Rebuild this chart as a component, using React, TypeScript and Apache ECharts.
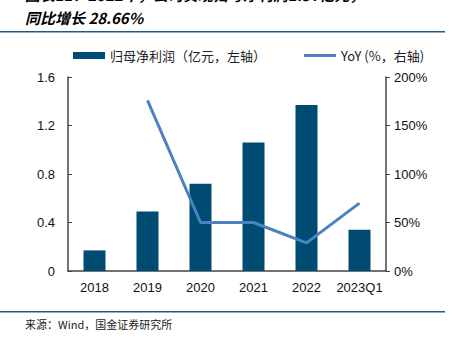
import React, { useEffect, useRef } from "react";
import * as echarts from "echarts";

const categories = ["2018", "2019", "2020", "2021", "2022", "2023Q1"];
const profit = [0.17, 0.49, 0.72, 1.06, 1.37, 0.34];
const yoy: (number | null)[] = [null, 176, 50, 50, 29, 70];
const leftTicks = [0, 0.4, 0.8, 1.2, 1.6];
const rightTicks = [0, 50, 100, 150, 200];
const barName = "归母净利润（亿元，左轴）";
const lineName = "YoY (%，右轴)";
const titleLine1 = "图表11：2022年，公司实现归母净利润1.37亿元，";
const titleLine2 = "同比增长 28.66%";
const sourceText = "来源：Wind，国金证券研究所";

export default function App() {
  const ref = useRef<HTMLDivElement>(null);
  useEffect(() => {
    if (!ref.current) return;
    const chart = echarts.init(ref.current, null, { renderer: "svg" });
    const font = "Liberation Sans, Arial, Noto Sans CJK SC, sans-serif";
    chart.setOption({
      animation: false,
      textStyle: { fontFamily: font },
      graphic: [
        {
          type: "text",
          left: 25,
          top: -13,
          style: { text: titleLine1, font: "italic bold 15px 'Noto Sans CJK SC'", fill: "#000" },
        },
        {
          type: "text",
          left: 25,
          top: 10,
          style: { text: titleLine2, font: "italic bold 15px 'Noto Sans CJK SC'", fill: "#000" },
        },
        {
          type: "rect",
          shape: { x: 0, y: 31, width: 445, height: 1.5 },
          style: { fill: "#1F5A85" },
        },
        {
          type: "rect",
          shape: { x: 0, y: 311, width: 445, height: 1.5 },
          style: { fill: "#1F5A85" },
        },
        {
          type: "text",
          left: 25,
          top: 318,
          style: { text: sourceText, font: "11px 'Noto Sans CJK SC'", fill: "#222" },
        },
      ],
      legend: {
        left: 68,
        top: 44,
        itemWidth: 32,
        itemHeight: 7,
        itemGap: 38,
        textStyle: { fontSize: 13, color: "#222", fontFamily: "Noto Sans CJK SC, sans-serif" },
        data: [
          { name: barName, icon: "rect" },
          { name: lineName, icon: "path://M0,0h32v3h-32z" },
        ],
      },
      grid: { left: 68, right: 67, top: 77, bottom: 74 },
      xAxis: {
        type: "category",
        data: categories,
        axisLine: { lineStyle: { color: "#444", width: 1.5 } },
        axisTick: { inside: true, length: 4, lineStyle: { color: "#444" } },
        axisLabel: { color: "#111", fontSize: 13, margin: 10, fontFamily: font, interval: 0 },
      },
      yAxis: [
        {
          type: "value",
          min: 0,
          max: 1.6,
          interval: 0.4,
          axisLine: { show: true, lineStyle: { color: "#444", width: 1.5 } },
          axisTick: { show: true, inside: true, length: 4, lineStyle: { color: "#444" } },
          splitLine: { show: false },
          axisLabel: {
            color: "#111",
            fontSize: 13,
            margin: 13,
            fontFamily: font,
            formatter: (v: number) => (leftTicks.includes(Math.round(v * 10) / 10) ? (v === 0 ? "0" : v.toFixed(1)) : ""),
          },
        },
        {
          type: "value",
          min: 0,
          max: 200,
          interval: 50,
          position: "right",
          axisLine: { show: true, lineStyle: { color: "#444", width: 1.5 } },
          axisTick: { show: true, inside: false, length: 4, lineStyle: { color: "#444" } },
          splitLine: { show: false },
          axisLabel: {
            color: "#111",
            fontSize: 13,
            margin: 8,
            fontFamily: font,
            formatter: (v: number) => (rightTicks.includes(v) ? v + "%" : ""),
          },
        },
      ],
      series: [
        {
          name: barName,
          type: "bar",
          data: profit,
          barWidth: 22,
          itemStyle: { color: "#004B71" },
          yAxisIndex: 0,
        },
        {
          name: lineName,
          type: "line",
          data: yoy,
          yAxisIndex: 1,
          symbol: "none",
          lineStyle: { color: "#4A82C3", width: 3 },
          itemStyle: { color: "#4A82C3" },
        },
      ],
    });
    return () => chart.dispose();
  }, []);
  return <div ref={ref} style={{ width: 453, height: 345, position: "absolute", left: 0, top: 0 }} />;
}
